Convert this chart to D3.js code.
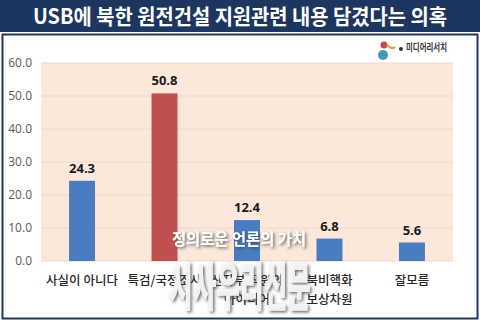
<!DOCTYPE html>
<html><head><meta charset="utf-8">
<script src="https://cdn.jsdelivr.net/npm/d3@7"></script>
<style>body{margin:0;background:#fff}svg{display:block}</style>
</head><body>
<svg id="c" width="480" height="323"></svg>
<script>
const categories = [["사실이 아니다"], ["특검/국정조사"], ["산자부 직원의", "아이디어"], ["북비핵화", "보상차원"], ["잘모름"]];
const values = [24.3, 50.8, 12.4, 6.8, 5.6];
const highlight = [false, true, false, false, false];
const yTicks = [0, 10, 20, 30, 40, 50, 60];
const title = "USB에 북한 원전건설 지원관련 내용 담겼다는 의혹";

const svg = d3.select("#c");
const font = "'Noto Sans CJK KR','Noto Sans',sans-serif";

const defs = svg.append("defs");
const f = defs.append("filter").attr("id","sh").attr("x","-20%").attr("y","-20%").attr("width","140%").attr("height","140%");
f.append("feDropShadow").attr("dx",1.5).attr("dy",1.5).attr("stdDeviation",1.5).attr("flood-color","#444").attr("flood-opacity",0.9);

// title bar
svg.append("rect").attr("x",0).attr("y",0).attr("width",480).attr("height",32).attr("fill","#1c3660");
svg.append("text").attr("x",240).attr("y",24).attr("text-anchor","middle")
  .attr("font-family",font).attr("font-weight","bold").attr("font-size",21).attr("fill","#fff")
  .attr("textLength",414).attr("lengthAdjust","spacingAndGlyphs").text(title);
// frame
svg.append("rect").attr("x",2.5).attr("y",34.5).attr("width",475).attr("height",284).attr("fill","#fff")
  .attr("stroke","#1c3660").attr("stroke-width",2);

const x0 = 41, x1 = 453, yTop = 63, yBot = 261;
const x = d3.scaleBand().domain(d3.range(values.length)).range([x0, x1]).paddingInner(0.685).paddingOuter(0.34);
const y = d3.scaleLinear().domain([0, 60]).range([yBot, yTop]);

svg.append("rect").attr("x",x0).attr("y",yTop).attr("width",x1-x0).attr("height",yBot-yTop).attr("fill","#fce8da");
svg.append("g").selectAll("line").data(yTicks).join("line")
  .attr("x1",x0).attr("x2",x1).attr("y1",d=>y(d)).attr("y2",d=>y(d))
  .attr("stroke","#efd8c8").attr("stroke-width",1);

const yAxis = svg.append("g").attr("transform",`translate(${x0},0)`)
  .call(d3.axisLeft(y).tickValues(yTicks).tickFormat(d3.format(".1f")).tickSize(0).tickPadding(9));
yAxis.select(".domain").remove();
yAxis.selectAll("text").attr("font-family","'Open Sans','Noto Sans',sans-serif").attr("font-size",12).attr("fill","#595959");

svg.append("g").selectAll("rect").data(values).join("rect")
  .attr("x",(d,i)=>x(i)).attr("width",x.bandwidth())
  .attr("y",d=>y(d)).attr("height",d=>yBot-y(d))
  .attr("fill",(d,i)=>highlight[i]?"#c0504d":"#4a7cc2");

svg.append("g").selectAll("text").data(values).join("text")
  .attr("x",(d,i)=>x(i)+x.bandwidth()/2).attr("y",d=>y(d)-8)
  .attr("text-anchor","middle").attr("font-family","'Open Sans','Noto Sans',sans-serif")
  .attr("font-weight","bold").attr("font-size",13).attr("fill","#1a1a1a")
  .text(d=>d.toFixed(1));

const cg = svg.append("g");
categories.forEach((lines,i)=>{
  lines.forEach((t,j)=>{
    cg.append("text").attr("x",x(i)+x.bandwidth()/2).attr("y",285+j*19)
      .attr("text-anchor","middle").attr("font-family",font).attr("font-size",12.5)
      .attr("font-weight",500).attr("fill","#262626").text(t);
  });
});

// logo
const logo = svg.append("g");
logo.append("circle").attr("cx",383).attr("cy",55).attr("r",5).attr("fill","#3c9bb0");
logo.append("circle").attr("cx",384).attr("cy",45).attr("r",3.5).attr("fill","#c64a55");
logo.append("path").attr("d","M387,45 Q392,50 395,47").attr("stroke","#d4a84a").attr("stroke-width",2).attr("fill","none");
logo.append("circle").attr("cx",401).attr("cy",49).attr("r",2).attr("fill","#333");
logo.append("text").attr("x",406).attr("y",51).attr("font-family",font).attr("font-weight","bold")
  .attr("font-size",10).attr("fill","#333").attr("textLength",41).attr("lengthAdjust","spacingAndGlyphs").text("미디어리서치");

// watermark
const wm = svg.append("g").attr("font-family",font).attr("font-weight","bold").attr("text-anchor","middle").attr("filter","url(#sh)");
wm.append("text").attr("x",239).attr("y",245).attr("font-size",16).attr("fill","#fff")
  .attr("textLength",134).attr("lengthAdjust","spacingAndGlyphs").text("정의로운 언론의 가치");
wm.append("text").attr("x",240).attr("y",306).attr("font-size",52).attr("font-weight",900).attr("fill","#f7f7f7")
  .attr("opacity",0.92).attr("textLength",142).attr("lengthAdjust","spacingAndGlyphs").text("시사우리신문");
</script>
</body></html>
